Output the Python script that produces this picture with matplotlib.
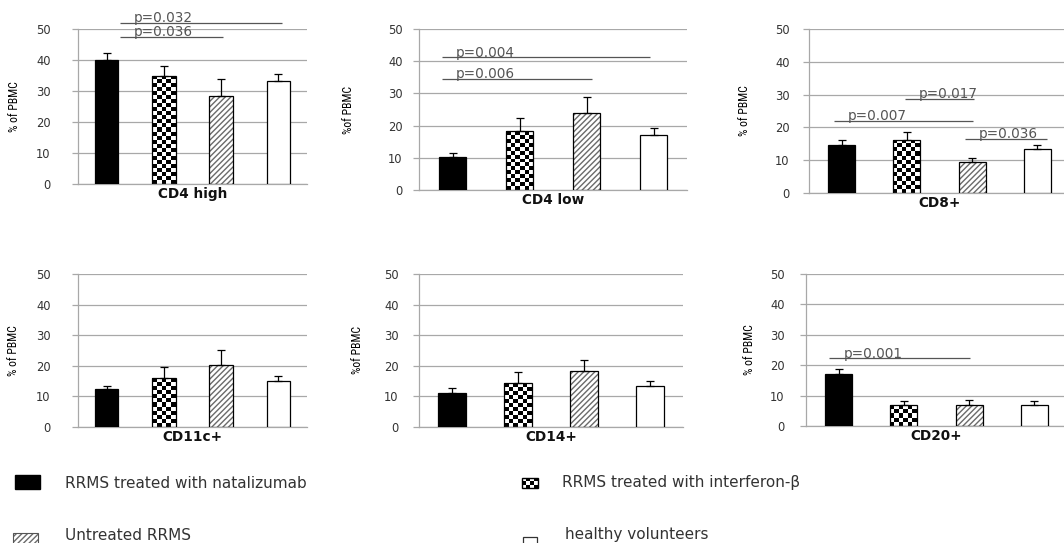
"""Lymphocyte subsets as % of PBMC in four patient groups."""
import numpy as np
import matplotlib
matplotlib.use("Agg")
import matplotlib.pyplot as plt
from matplotlib import font_manager
from matplotlib.patches import Rectangle

plt.rcParams["font.family"] = ["DejaVu Sans"]

W, H = 1064, 543
DPI = 100

groups = [
    "RRMS treated with natalizumab",
    "RRMS treated with interferon-β",
    "Untreated RRMS",
    "healthy volunteers",
]
panel_names = ["CD4 high", "CD4 low", "CD8+", "CD11c+", "CD14+", "CD20+"]
ylabels = ["% of PBMC", "%of PBMC", "% of PBMC", "% of PBMC", "%of PBMC", "% of PBMC"]

# mean and upper error per group
cd4_high = [40.0, 34.9, 28.4, 33.3]
cd4_high_err = [2.1, 3.1, 5.5, 2.3]
cd4_low = [10.4, 18.2, 23.9, 17.2]
cd4_low_err = [1.2, 4.2, 4.9, 2.0]
cd8 = [14.6, 16.3, 9.5, 13.3]
cd8_err = [1.5, 2.3, 1.3, 1.3]
cd11c = [12.3, 15.9, 20.4, 15.1]
cd11c_err = [1.1, 3.8, 4.7, 1.5]
cd14 = [11.2, 14.3, 18.2, 13.5]
cd14_err = [1.4, 3.7, 3.6, 1.5]
cd20 = [17.1, 6.8, 7.0, 7.0]
cd20_err = [1.6, 1.4, 1.7, 1.1]

# significance lines: (label, level, from, to)
cd4_high_p = [("p=0.032", 51.9, 0.23, 3.07), ("p=0.036", 47.4, 0.23, 2.03)]
cd4_low_p = [("p=0.004", 41.2, -0.16, 2.95), ("p=0.006", 34.5, -0.16, 2.08)]
cd8_p = [("p=0.017", 28.6, 0.97, 2.03), ("p=0.007", 22.0, -0.12, 2.02),
         ("p=0.036", 16.5, 1.89, 3.14)]
cd11c_p = []
cd14_p = []
cd20_p = [("p=0.001", 22.3, -0.14, 2.02)]

means = [cd4_high, cd4_low, cd8, cd11c, cd14, cd20]
errs = [cd4_high_err, cd4_low_err, cd8_err, cd11c_err, cd14_err, cd20_err]
pvals = [cd4_high_p, cd4_low_p, cd8_p, cd11c_p, cd14_p, cd20_p]

# axes boxes in pixels: left, right, top, bottom, ylabel offset, tick pad
layout = [
    (78, 307, 29, 184, 57, 21),
    (419, 687, 29, 190, 64, 10),
    (809, 1070, 29, 193, 58, 13),
    (78, 307, 274, 427, 58, 21),
    (419, 683, 274, 427, 55, 14),
    (806, 1067, 274, 426, 50, 15),
]


def pick_font(names, default):
    for n in names:
        try:
            font_manager.findfont(font_manager.FontProperties(family=n),
                                  fallback_to_default=False)
            return n, True
        except ValueError:
            pass
    return default, False


NARROW, HAVE_NARROW = pick_font(["Liberation Sans Narrow", "Arial Narrow",
                                 "DejaVu Sans Condensed", "Roboto Condensed"],
                                "Liberation Sans")
YLABEL_SIZE = 8.5 if HAVE_NARROW else 7.5
GRID = "#a8a8a8"
TEXT = "#333333"
BAR_W = 0.41


def checker(nrows, ncols):
    return np.indices((nrows, ncols)).sum(axis=0) % 2


def checker_bar(ax, rect):
    x0, y0 = rect.get_x(), rect.get_y()
    x1, y1 = x0 + rect.get_width(), y0 + rect.get_height()
    (px0, py0), (px1, py1) = ax.transData.transform([(x0, y0), (x1, y1)])
    ncols = max(2, int(round((px1 - px0) / 4.6)))
    nrows = max(1, int(round((py1 - py0) / 4.0)))
    im = ax.imshow(checker(nrows, ncols), cmap="gray", vmin=0, vmax=1,
                   extent=[x0, x1, y0, y1], aspect="auto",
                   interpolation="nearest", zorder=2)
    im.set_clip_path(rect)


fig = plt.figure(figsize=(W / DPI, H / DPI), dpi=DPI)
fig.patch.set_facecolor("white")

x = np.arange(4)
for i in range(6):
    left, right, top, bottom, lab_off, pad = layout[i]
    ax = fig.add_axes([left / W, (H - bottom) / H, (right - left) / W, (bottom - top) / H])
    ax.set_xlim(-0.5, 3.5)
    ax.set_ylim(0, 50)

    v = means[i]
    e = errs[i]

    ax.bar(x[0], v[0], BAR_W, color="black", edgecolor="black", lw=0.9, zorder=3)
    chk = ax.bar(x[1], v[1], BAR_W, color="white", edgecolor="none", lw=0, zorder=2)
    checker_bar(ax, chk[0])
    ax.bar(x[1], v[1], BAR_W, fill=False, edgecolor="black", lw=0.9, zorder=3)
    ax.bar(x[2], v[2], BAR_W, color="white", edgecolor="#6a6a6a", hatch="//////",
           lw=0, zorder=2)
    ax.bar(x[2], v[2], BAR_W, fill=False, edgecolor="black", lw=0.9, zorder=3)
    ax.bar(x[3], v[3], BAR_W, color="white", edgecolor="black", lw=0.9, zorder=3)
    ax.set_xlim(-0.5, 3.5)
    ax.set_ylim(0, 50)

    ax.errorbar(x, v, yerr=[np.zeros(4), e], fmt="none", ecolor="black",
                elinewidth=0.9, capsize=3, capthick=0.9, zorder=4)

    for label, level, x0, x1 in pvals[i]:
        ax.plot([x0, x1], [level, level], color="#555555", lw=0.9,
                clip_on=False, zorder=5, solid_capstyle="butt")
        ax.annotate(label, xy=(x0, level), xytext=(10, 0.5), textcoords="offset points",
                    va="baseline", ha="left", fontsize=9.8, color="#555555",
                    annotation_clip=False)

    ax.set_yticks([0, 10, 20, 30, 40, 50])
    ax.set_xticks([])
    ax.grid(True, axis="y", color=GRID, lw=0.9)
    ax.set_axisbelow(True)
    for s in ["top", "right"]:
        ax.spines[s].set_visible(False)
    ax.spines["left"].set_color(GRID)
    ax.spines["bottom"].set_color(GRID)
    ax.spines["left"].set_linewidth(0.9)
    ax.spines["bottom"].set_linewidth(0.9)
    ax.tick_params(axis="y", length=4.5, width=0.9, color=GRID,
                   pad=pad * 0.72, labelsize=8.3, labelcolor=TEXT)

    ax.set_xlabel(panel_names[i], fontsize=9.8, fontweight="bold", color="#111111",
                  labelpad=2)
    ax.set_ylabel(ylabels[i], family=NARROW, fontsize=YLABEL_SIZE, color="black")
    ax.yaxis.set_label_coords(-lab_off / (right - left), 0.5)

# legend drawn in pixel space along the bottom
leg = fig.add_axes([0, 0, 1, 1])
leg.set_xlim(0, W)
leg.set_ylim(H, 0)
leg.set_axis_off()

leg.add_patch(Rectangle((15, 475), 25, 14, facecolor="black", edgecolor="black"))
leg.imshow(1 - checker(3, 4), cmap="gray", vmin=0, vmax=1,
           extent=[522, 538, 488, 478], aspect="auto", interpolation="nearest")
leg.add_patch(Rectangle((522, 478), 16, 10, fill=False, edgecolor="black", lw=1.0))
leg.add_patch(Rectangle((13, 533), 25, 11, facecolor="white", edgecolor="#6a6a6a",
                        hatch="//////", lw=0))
leg.add_patch(Rectangle((13, 533), 25, 11, fill=False, edgecolor="#555555", lw=0.8))
leg.add_patch(Rectangle((523, 537), 14, 14, facecolor="white", edgecolor="#333333", lw=0.9))
leg.set_xlim(0, W)
leg.set_ylim(H, 0)

legend_pos = [(65, 483), (562, 483), (65, 535), (565, 535)]
for name, (tx, ty) in zip(groups, legend_pos):
    leg.text(tx, ty, name, fontsize=11, color=TEXT, va="center", ha="left")

fig.savefig("out.png", dpi=DPI, facecolor="white")
